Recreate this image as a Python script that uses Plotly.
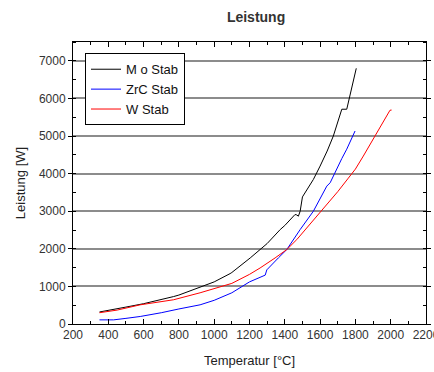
import plotly.graph_objects as go

# Heating power vs. temperature for three rod materials
mo_temp = [350, 400, 500, 600, 700, 770, 800, 900, 1000, 1090, 1100, 1204, 1270, 1300,
           1374, 1400, 1458, 1468, 1477, 1487, 1500, 1510, 1562, 1600, 1640, 1675, 1700,
           1723, 1751, 1770, 1788, 1805]
mo_power = [320, 370, 450, 540, 640, 730, 770, 950, 1120, 1340, 1370, 1757, 2024, 2140,
            2512, 2620, 2912, 2900, 2867, 3000, 3380, 3450, 3845, 4200, 4600, 5000, 5350,
            5712, 5712, 6112, 6500, 6800]

zrc_temp = [350, 430, 500, 581, 700, 770, 800, 920, 1000, 1100, 1200, 1289, 1298, 1364,
            1411, 1487, 1562, 1638, 1657, 1723, 1751, 1798]
zrc_power = [110, 110, 150, 200, 300, 380, 400, 510, 630, 830, 1120, 1300, 1440, 1760,
             1979, 2512, 3000, 3667, 3757, 4400, 4650, 5133]

w_temp = [350, 450, 581, 700, 770, 920, 1000, 1100, 1200, 1260, 1345, 1411, 1468, 1534,
          1600, 1640, 1700, 1760, 1800, 1845, 1911, 1996, 2005]
w_power = [300, 370, 510, 590, 645, 830, 950, 1080, 1320, 1490, 1757, 1979, 2245, 2600,
           2957, 3200, 3520, 3880, 4120, 4467, 5000, 5685, 5690]

series = [
    ("M o Stab", mo_temp, mo_power, "#000000"),
    ("ZrC Stab", zrc_temp, zrc_power, "#0000ff"),
    ("W Stab", w_temp, w_power, "#ff0000"),
]

font_family = "Liberation Sans, Arial, sans-serif"

fig = go.Figure()
for name, t, p, color in series:
    fig.add_trace(go.Scatter(x=t, y=p, mode="lines", name=name,
                             line=dict(color=color, width=1)))

fig.update_layout(
    width=434, height=372,
    margin=dict(l=73, r=8, t=42, b=48),
    paper_bgcolor="white", plot_bgcolor="white",
    font=dict(family=font_family, size=12, color="#333333"),
    title=dict(text="<b>Leistung</b>", x=0.59, xanchor="center", y=0.955, yanchor="middle",
               font=dict(family=font_family, size=14, color="#333333")),
    legend=dict(x=0.034, y=0.96, xanchor="left", yanchor="top",
                bgcolor="white", bordercolor="#000000", borderwidth=1,
                font=dict(family=font_family, size=13, color="#111111"),
                tracegroupgap=0, itemwidth=30),
    showlegend=True,
)

fig.update_xaxes(
    range=[200, 2200], tick0=200, dtick=200, automargin=False,
    ticklabeloverflow="allow",
    showgrid=False, zeroline=False,
    showline=True, linecolor="#000000", linewidth=1, mirror="ticks",
    ticks="inside", ticklen=5, tickcolor="#000000",
    minor=dict(dtick=100, ticks="inside", ticklen=3, tickcolor="#000000", showgrid=False),
    title=dict(text="Temperatur [°C]", standoff=14,
               font=dict(family=font_family, size=13, color="#222222")),
    tickfont=dict(size=12, color="#333333"),
)

fig.update_yaxes(
    range=[0, 7500], tick0=0, dtick=1000, automargin=False,
    showgrid=True, gridcolor="#8c8c8c", gridwidth=1.5, zeroline=False,
    showline=True, linecolor="#000000", linewidth=1, mirror="ticks",
    ticks="outside", ticklen=4, tickcolor="#000000",
    minor=dict(dtick=500, ticks="inside", ticklen=3, tickcolor="#000000", showgrid=False),
    title=dict(text="Leistung [W]", standoff=10,
               font=dict(family=font_family, size=13, color="#222222")),
    tickfont=dict(size=12, color="#333333"),
)

fig.write_html("out.html")
